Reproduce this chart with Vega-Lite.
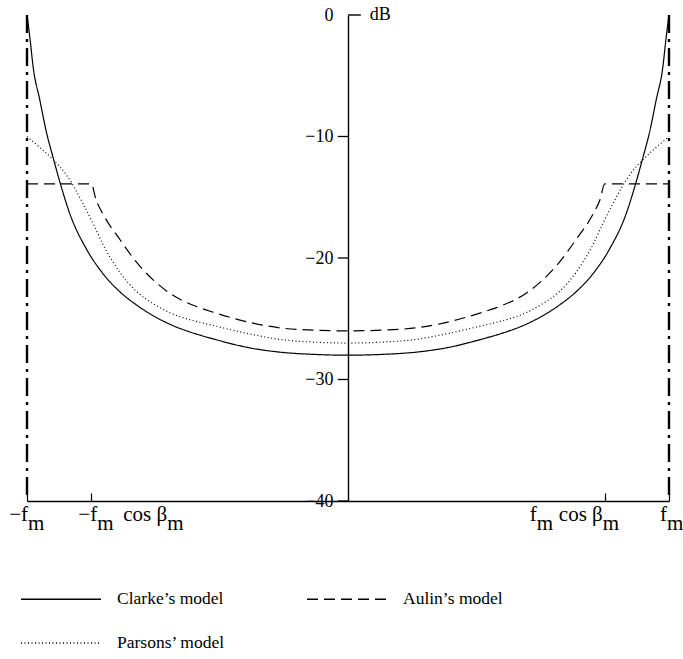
{
  "$schema": "https://vega.github.io/schema/vega-lite/v6.json",
  "width": 642,
  "height": 486,
  "autosize": {"type": "none"},
  "padding": {"left": 27, "top": 15, "right": 14, "bottom": 158},
  "background": "white",
  "config": {
    "view": {"stroke": null},
    "font": "Liberation Serif",
    "axis": {"grid": false, "domainColor": "black", "tickColor": "black", "labelColor": "black", "domainWidth": 1.4, "tickWidth": 1.2}
  },
  "datasets": {
    "spectra": [
      {"model": "Clarke’s model", "f": -1.0, "db": 0.0},
      {"model": "Clarke’s model", "f": -0.99, "db": -2.1},
      {"model": "Clarke’s model", "f": -0.981, "db": -4.25},
      {"model": "Clarke’s model", "f": -0.96, "db": -7.0},
      {"model": "Clarke’s model", "f": -0.939, "db": -9.7},
      {"model": "Clarke’s model", "f": -0.919, "db": -11.7},
      {"model": "Clarke’s model", "f": -0.897, "db": -13.8},
      {"model": "Clarke’s model", "f": -0.866, "db": -16.4},
      {"model": "Clarke’s model", "f": -0.814, "db": -19.3},
      {"model": "Clarke’s model", "f": -0.763, "db": -21.3},
      {"model": "Clarke’s model", "f": -0.71, "db": -22.8},
      {"model": "Clarke’s model", "f": -0.657, "db": -23.9},
      {"model": "Clarke’s model", "f": -0.607, "db": -24.75},
      {"model": "Clarke’s model", "f": -0.555, "db": -25.45},
      {"model": "Clarke’s model", "f": -0.461, "db": -26.35},
      {"model": "Clarke’s model", "f": -0.421, "db": -26.65},
      {"model": "Clarke’s model", "f": -0.315, "db": -27.35},
      {"model": "Clarke’s model", "f": -0.212, "db": -27.75},
      {"model": "Clarke’s model", "f": -0.109, "db": -27.93},
      {"model": "Clarke’s model", "f": 0.0, "db": -28.0},
      {"model": "Clarke’s model", "f": 0.109, "db": -27.93},
      {"model": "Clarke’s model", "f": 0.212, "db": -27.75},
      {"model": "Clarke’s model", "f": 0.315, "db": -27.35},
      {"model": "Clarke’s model", "f": 0.421, "db": -26.65},
      {"model": "Clarke’s model", "f": 0.461, "db": -26.35},
      {"model": "Clarke’s model", "f": 0.555, "db": -25.45},
      {"model": "Clarke’s model", "f": 0.607, "db": -24.75},
      {"model": "Clarke’s model", "f": 0.657, "db": -23.9},
      {"model": "Clarke’s model", "f": 0.71, "db": -22.8},
      {"model": "Clarke’s model", "f": 0.763, "db": -21.3},
      {"model": "Clarke’s model", "f": 0.814, "db": -19.3},
      {"model": "Clarke’s model", "f": 0.866, "db": -16.4},
      {"model": "Clarke’s model", "f": 0.897, "db": -13.8},
      {"model": "Clarke’s model", "f": 0.919, "db": -11.7},
      {"model": "Clarke’s model", "f": 0.939, "db": -9.7},
      {"model": "Clarke’s model", "f": 0.96, "db": -7.0},
      {"model": "Clarke’s model", "f": 0.981, "db": -4.25},
      {"model": "Clarke’s model", "f": 0.99, "db": -2.1},
      {"model": "Clarke’s model", "f": 1.0, "db": 0.0},

      {"model": "Aulin’s model", "f": -1.0, "db": -13.9},
      {"model": "Aulin’s model", "f": -0.8, "db": -13.9},
      {"model": "Aulin’s model", "f": -0.785, "db": -15.2},
      {"model": "Aulin’s model", "f": -0.763, "db": -16.4},
      {"model": "Aulin’s model", "f": -0.71, "db": -18.5},
      {"model": "Aulin’s model", "f": -0.657, "db": -20.4},
      {"model": "Aulin’s model", "f": -0.607, "db": -21.8},
      {"model": "Aulin’s model", "f": -0.555, "db": -22.9},
      {"model": "Aulin’s model", "f": -0.461, "db": -24.1},
      {"model": "Aulin’s model", "f": -0.421, "db": -24.45},
      {"model": "Aulin’s model", "f": -0.315, "db": -25.25},
      {"model": "Aulin’s model", "f": -0.212, "db": -25.75},
      {"model": "Aulin’s model", "f": -0.109, "db": -25.93},
      {"model": "Aulin’s model", "f": 0.0, "db": -26.0},
      {"model": "Aulin’s model", "f": 0.109, "db": -25.93},
      {"model": "Aulin’s model", "f": 0.212, "db": -25.75},
      {"model": "Aulin’s model", "f": 0.315, "db": -25.25},
      {"model": "Aulin’s model", "f": 0.421, "db": -24.45},
      {"model": "Aulin’s model", "f": 0.461, "db": -24.1},
      {"model": "Aulin’s model", "f": 0.555, "db": -22.9},
      {"model": "Aulin’s model", "f": 0.607, "db": -21.8},
      {"model": "Aulin’s model", "f": 0.657, "db": -20.4},
      {"model": "Aulin’s model", "f": 0.71, "db": -18.5},
      {"model": "Aulin’s model", "f": 0.763, "db": -16.4},
      {"model": "Aulin’s model", "f": 0.785, "db": -15.2},
      {"model": "Aulin’s model", "f": 0.8, "db": -13.9},
      {"model": "Aulin’s model", "f": 1.0, "db": -13.9},

      {"model": "Parsons’ model", "f": -1.0, "db": -10.0},
      {"model": "Parsons’ model", "f": -0.96, "db": -10.9},
      {"model": "Parsons’ model", "f": -0.919, "db": -11.9},
      {"model": "Parsons’ model", "f": -0.876, "db": -13.2},
      {"model": "Parsons’ model", "f": -0.826, "db": -15.5},
      {"model": "Parsons’ model", "f": -0.788, "db": -17.5},
      {"model": "Parsons’ model", "f": -0.763, "db": -18.9},
      {"model": "Parsons’ model", "f": -0.71, "db": -21.2},
      {"model": "Parsons’ model", "f": -0.657, "db": -22.8},
      {"model": "Parsons’ model", "f": -0.607, "db": -23.75},
      {"model": "Parsons’ model", "f": -0.555, "db": -24.5},
      {"model": "Parsons’ model", "f": -0.461, "db": -25.3},
      {"model": "Parsons’ model", "f": -0.421, "db": -25.55},
      {"model": "Parsons’ model", "f": -0.315, "db": -26.2},
      {"model": "Parsons’ model", "f": -0.212, "db": -26.7},
      {"model": "Parsons’ model", "f": -0.109, "db": -26.92},
      {"model": "Parsons’ model", "f": 0.0, "db": -27.0},
      {"model": "Parsons’ model", "f": 0.109, "db": -26.92},
      {"model": "Parsons’ model", "f": 0.212, "db": -26.7},
      {"model": "Parsons’ model", "f": 0.315, "db": -26.2},
      {"model": "Parsons’ model", "f": 0.421, "db": -25.55},
      {"model": "Parsons’ model", "f": 0.461, "db": -25.3},
      {"model": "Parsons’ model", "f": 0.555, "db": -24.5},
      {"model": "Parsons’ model", "f": 0.607, "db": -23.75},
      {"model": "Parsons’ model", "f": 0.657, "db": -22.8},
      {"model": "Parsons’ model", "f": 0.71, "db": -21.2},
      {"model": "Parsons’ model", "f": 0.763, "db": -18.9},
      {"model": "Parsons’ model", "f": 0.788, "db": -17.5},
      {"model": "Parsons’ model", "f": 0.826, "db": -15.5},
      {"model": "Parsons’ model", "f": 0.876, "db": -13.2},
      {"model": "Parsons’ model", "f": 0.919, "db": -11.9},
      {"model": "Parsons’ model", "f": 0.96, "db": -10.9},
      {"model": "Parsons’ model", "f": 1.0, "db": -10.0}
    ],
    "band": [{"f": -1}, {"f": 1}],
    "yticks": [{"db": -10}, {"db": -20}, {"db": -30}, {"db": -40}],
    "one": [{}]
  },
  "layer": [
    {
      "data": {"name": "spectra"},
      "mark": {"type": "line", "interpolate": "monotone", "color": "black", "strokeWidth": 1.2},
      "encoding": {
        "x": {
          "field": "f", "type": "quantitative",
          "scale": {"domain": [-1, 1], "nice": false, "zero": false},
          "axis": {"title": null, "values": [-1, -0.8, 0.8, 1], "labels": false, "tickSize": -8, "domain": true}
        },
        "y": {
          "field": "db", "type": "quantitative",
          "scale": {"domain": [-40, 0], "nice": false, "zero": false},
          "axis": {
            "title": null, "orient": "left", "offset": -321,
            "values": [0, -10, -20, -30, -40],
            "ticks": false, "labelPadding": 15,
            "labelFontSize": 18, "labelFont": "Liberation Serif"
          }
        },
        "strokeDash": {
          "field": "model", "type": "nominal",
          "scale": {
            "domain": ["Clarke’s model", "Aulin’s model", "Parsons’ model"],
            "range": [[1, 0], [11, 6], [1, 2.5]]
          },
          "legend": {
            "title": null, "orient": "none", "legendX": 23, "legendY": 573,
            "direction": "horizontal", "columns": 2, "columnPadding": 78, "rowPadding": 24,
            "symbolType": "M-4,0H4", "symbolSize": 400, "symbolStrokeColor": "black", "symbolStrokeWidth": 1.3,
            "labelFont": "Liberation Serif", "labelFontSize": 17.5, "labelColor": "black", "labelOffset": 45, "labelLimit": 300
          }
        }
      }
    },
    {
      "data": {"name": "yticks"},
      "mark": {"type": "rule", "color": "black", "strokeWidth": 1.3},
      "encoding": {
        "x": {"datum": -0.032},
        "x2": {"datum": 0},
        "y": {"field": "db", "type": "quantitative"}
      }
    },
    {
      "data": {"name": "band"},
      "mark": {"type": "rule", "color": "black", "strokeWidth": 2.4, "strokeDash": [18, 6, 3, 6]},
      "encoding": {
        "x": {"field": "f", "type": "quantitative"},
        "y": {"datum": 0},
        "y2": {"datum": -40}
      }
    },
    {
      "data": {"name": "one"},
      "mark": {"type": "rule", "color": "black", "strokeWidth": 1.4},
      "encoding": {"x": {"datum": 0}, "x2": {"datum": 0.04}, "y": {"datum": 0}}
    },
    {
      "data": {"name": "one"},
      "mark": {"type": "text", "text": "dB", "align": "left", "baseline": "middle", "fontSize": 18, "font": "Liberation Serif", "color": "black"},
      "encoding": {"x": {"datum": 0.068}, "y": {"datum": 0}}
    },
    {
      "data": {"name": "one"},
      "mark": {"type": "text", "text": "−f", "align": "right", "baseline": "alphabetic", "dx": 1, "dy": 20, "fontSize": 21, "font": "Liberation Serif", "color": "black"},
      "encoding": {"x": {"datum": -1}, "y": {"datum": -40}}
    },
    {
      "data": {"name": "one"},
      "mark": {"type": "text", "text": "m", "align": "left", "baseline": "alphabetic", "dx": 1, "dy": 29, "fontSize": 21, "font": "Liberation Serif", "color": "black"},
      "encoding": {"x": {"datum": -1}, "y": {"datum": -40}}
    },
    {
      "data": {"name": "one"},
      "mark": {"type": "text", "text": "−f", "align": "right", "baseline": "alphabetic", "dx": 6, "dy": 20, "fontSize": 21, "font": "Liberation Serif", "color": "black"},
      "encoding": {"x": {"datum": -0.8}, "y": {"datum": -40}}
    },
    {
      "data": {"name": "one"},
      "mark": {"type": "text", "text": "m", "align": "left", "baseline": "alphabetic", "dx": 6, "dy": 29, "fontSize": 21, "font": "Liberation Serif", "color": "black"},
      "encoding": {"x": {"datum": -0.8}, "y": {"datum": -40}}
    },
    {
      "data": {"name": "one"},
      "mark": {"type": "text", "text": "cos β", "align": "right", "baseline": "alphabetic", "dx": 76, "dy": 20, "fontSize": 21, "font": "Liberation Serif", "color": "black"},
      "encoding": {"x": {"datum": -0.8}, "y": {"datum": -40}}
    },
    {
      "data": {"name": "one"},
      "mark": {"type": "text", "text": "m", "align": "left", "baseline": "alphabetic", "dx": 76, "dy": 29, "fontSize": 21, "font": "Liberation Serif", "color": "black"},
      "encoding": {"x": {"datum": -0.8}, "y": {"datum": -40}}
    },
    {
      "data": {"name": "one"},
      "mark": {"type": "text", "text": "f", "align": "right", "baseline": "alphabetic", "dx": -68, "dy": 20, "fontSize": 21, "font": "Liberation Serif", "color": "black"},
      "encoding": {"x": {"datum": 0.8}, "y": {"datum": -40}}
    },
    {
      "data": {"name": "one"},
      "mark": {"type": "text", "text": "m", "align": "left", "baseline": "alphabetic", "dx": -68, "dy": 29, "fontSize": 21, "font": "Liberation Serif", "color": "black"},
      "encoding": {"x": {"datum": 0.8}, "y": {"datum": -40}}
    },
    {
      "data": {"name": "one"},
      "mark": {"type": "text", "text": "cos β", "align": "right", "baseline": "alphabetic", "dx": -2, "dy": 20, "fontSize": 21, "font": "Liberation Serif", "color": "black"},
      "encoding": {"x": {"datum": 0.8}, "y": {"datum": -40}}
    },
    {
      "data": {"name": "one"},
      "mark": {"type": "text", "text": "m", "align": "left", "baseline": "alphabetic", "dx": -2, "dy": 29, "fontSize": 21, "font": "Liberation Serif", "color": "black"},
      "encoding": {"x": {"datum": 0.8}, "y": {"datum": -40}}
    },
    {
      "data": {"name": "one"},
      "mark": {"type": "text", "text": "f", "align": "right", "baseline": "alphabetic", "dx": -2, "dy": 20, "fontSize": 21, "font": "Liberation Serif", "color": "black"},
      "encoding": {"x": {"datum": 1}, "y": {"datum": -40}}
    },
    {
      "data": {"name": "one"},
      "mark": {"type": "text", "text": "m", "align": "left", "baseline": "alphabetic", "dx": -2, "dy": 29, "fontSize": 21, "font": "Liberation Serif", "color": "black"},
      "encoding": {"x": {"datum": 1}, "y": {"datum": -40}}
    }
  ]
}
